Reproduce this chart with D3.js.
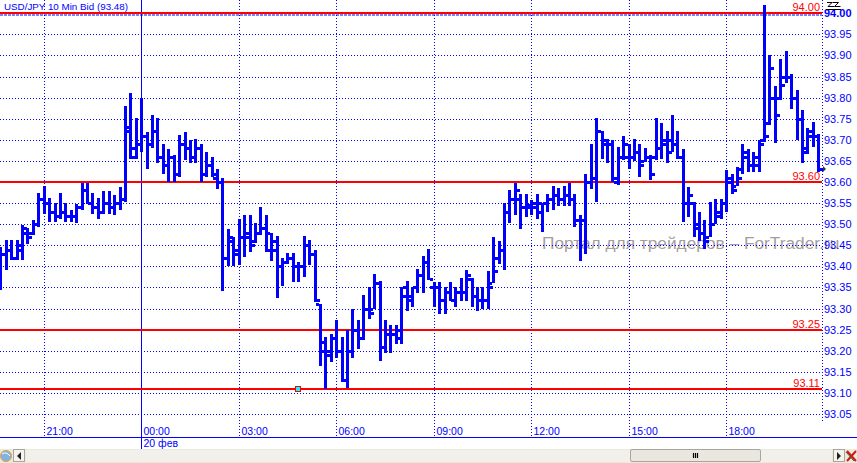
<!DOCTYPE html>
<html>
<head>
<meta charset="utf-8">
<script src="https://cdn.jsdelivr.net/npm/d3@7"></script>
<style>
body { margin: 0; background: #fff; overflow: hidden; }
svg text { font-family: "Liberation Sans", Arial, sans-serif; }
</style>
</head>
<body>
<svg id="chart" width="857" height="463"></svg>
<script>
// Chart data
var title = "USD/JPY 10 Min Bid (93.48)";
var watermark = "Портал для трейдеров – ForTrader.ru";
var dateLabel = "20 фев";
var startTime = Date.UTC(2009, 1, 19, 19, 40);
var barMinutes = 10;

var opens = [
    93.36, 93.43, 93.44, 93.42, 93.44, 93.48, 93.48, 93.50, 93.56, 93.55,
    93.53, 93.52, 93.53, 93.52, 93.52, 93.54, 93.58, 93.55, 93.54, 93.53,
    93.55, 93.54, 93.55, 93.56, 93.72, 93.68, 93.69, 93.71, 93.69, 93.72,
    93.66, 93.64, 93.66, 93.62, 93.69, 93.68, 93.66, 93.68, 93.62, 93.64,
    93.61, 93.60, 93.42, 93.46, 93.44, 93.47, 93.48, 93.46, 93.48, 93.49,
    93.48, 93.44, 93.40, 93.41, 93.42, 93.40, 93.40, 93.45, 93.43, 93.31,
    93.20, 93.19, 93.23, 93.20, 93.13, 93.20, 93.25, 93.23, 93.30, 93.30,
    93.36, 93.21, 93.24, 93.24, 93.25, 93.33, 93.32, 93.35, 93.38, 93.41,
    93.35, 93.35, 93.32, 93.34, 93.32, 93.34, 93.34, 93.37, 93.33, 93.32,
    93.32, 93.36, 93.42, 93.44, 93.53, 93.56, 93.56, 93.54, 93.545, 93.54,
    93.53, 93.55, 93.56, 93.57, 93.56, 93.57, 93.56, 93.51, 93.51, 93.60,
    93.61, 93.72, 93.70, 93.69, 93.60, 93.66, 93.66, 93.66, 93.67, 93.65,
    93.66, 93.66, 93.68, 93.69, 93.70, 93.69, 93.66, 93.55, 93.55, 93.50,
    93.48, 93.47, 93.50, 93.52, 93.55, 93.60, 93.59, 93.63, 93.66, 93.64,
    93.64, 93.70, 93.74, 93.80, 93.80, 93.85, 93.85, 93.80, 93.75, 93.68,
    93.71, 93.71
];
var highs = [
    93.446, 93.462, 93.462, 93.462, 93.498, 93.490, 93.510, 93.573, 93.590, 93.561,
    93.550, 93.573, 93.550, 93.533, 93.549, 93.597, 93.598, 93.573, 93.561, 93.579,
    93.579, 93.569, 93.589, 93.781, 93.810, 93.751, 93.800, 93.719, 93.760, 93.751,
    93.689, 93.679, 93.663, 93.711, 93.719, 93.699, 93.702, 93.689, 93.671, 93.660,
    93.632, 93.610, 93.489, 93.469, 93.512, 93.522, 93.522, 93.504, 93.540, 93.522,
    93.480, 93.472, 93.421, 93.431, 93.431, 93.411, 93.472, 93.463, 93.440, 93.310,
    93.233, 93.240, 93.272, 93.233, 93.250, 93.300, 93.274, 93.333, 93.352, 93.383,
    93.365, 93.274, 93.262, 93.262, 93.352, 93.365, 93.352, 93.393, 93.425, 93.442,
    93.363, 93.363, 93.352, 93.363, 93.352, 93.373, 93.391, 93.373, 93.352, 93.350,
    93.390, 93.469, 93.461, 93.550, 93.580, 93.598, 93.572, 93.572, 93.558, 93.572,
    93.550, 93.572, 93.590, 93.587, 93.590, 93.598, 93.572, 93.521, 93.620, 93.690,
    93.751, 93.721, 93.703, 93.699, 93.683, 93.710, 93.689, 93.703, 93.691, 93.681,
    93.665, 93.751, 93.741, 93.721, 93.760, 93.721, 93.679, 93.588, 93.552, 93.530,
    93.510, 93.552, 93.560, 93.560, 93.629, 93.620, 93.635, 93.690, 93.679, 93.671,
    93.699, 94.020, 93.901, 93.827, 93.891, 93.910, 93.857, 93.819, 93.770, 93.727,
    93.743, 93.715
];
var lows = [
    93.343, 93.392, 93.414, 93.414, 93.414, 93.454, 93.474, 93.494, 93.525, 93.505,
    93.505, 93.513, 93.505, 93.505, 93.503, 93.533, 93.549, 93.525, 93.513, 93.525,
    93.525, 93.521, 93.533, 93.552, 93.654, 93.654, 93.671, 93.632, 93.681, 93.644,
    93.620, 93.600, 93.600, 93.612, 93.652, 93.644, 93.644, 93.600, 93.612, 93.612,
    93.583, 93.342, 93.402, 93.402, 93.403, 93.423, 93.433, 93.455, 93.475, 93.433,
    93.413, 93.324, 93.353, 93.406, 93.363, 93.363, 93.374, 93.403, 93.316, 93.163,
    93.110, 93.173, 93.183, 93.125, 93.111, 93.183, 93.204, 93.225, 93.275, 93.298,
    93.175, 93.194, 93.194, 93.217, 93.217, 93.294, 93.304, 93.336, 93.336, 93.367,
    93.304, 93.286, 93.286, 93.317, 93.304, 93.317, 93.317, 93.304, 93.294, 93.300,
    93.300, 93.360, 93.406, 93.391, 93.502, 93.521, 93.489, 93.517, 93.521, 93.513,
    93.481, 93.529, 93.533, 93.544, 93.544, 93.544, 93.493, 93.413, 93.429, 93.584,
    93.552, 93.654, 93.644, 93.600, 93.594, 93.652, 93.632, 93.649, 93.612, 93.648,
    93.604, 93.652, 93.654, 93.644, 93.671, 93.654, 93.505, 93.517, 93.470, 93.461,
    93.441, 93.470, 93.500, 93.513, 93.529, 93.572, 93.590, 93.620, 93.624, 93.624,
    93.624, 93.695, 93.735, 93.693, 93.794, 93.834, 93.774, 93.699, 93.645, 93.667,
    93.683, 93.624
];
var closes = [
    93.43, 93.44, 93.42, 93.45, 93.49, 93.47, 93.50, 93.56, 93.55, 93.53,
    93.52, 93.53, 93.52, 93.52, 93.54, 93.58, 93.55, 93.54, 93.53, 93.55,
    93.54, 93.55, 93.56, 93.73, 93.66, 93.69, 93.71, 93.69, 93.72, 93.66,
    93.64, 93.66, 93.62, 93.69, 93.68, 93.66, 93.68, 93.62, 93.64, 93.62,
    93.60, 93.42, 93.47, 93.43, 93.47, 93.47, 93.45, 93.48, 93.49, 93.44,
    93.46, 93.40, 93.41, 93.42, 93.40, 93.40, 93.45, 93.43, 93.32, 93.22,
    93.20, 93.23, 93.20, 93.13, 93.20, 93.25, 93.23, 93.30, 93.29, 93.36,
    93.21, 93.24, 93.24, 93.23, 93.35, 93.33, 93.35, 93.38, 93.41, 93.37,
    93.35, 93.32, 93.34, 93.32, 93.34, 93.34, 93.38, 93.33, 93.32, 93.32,
    93.35, 93.39, 93.44, 93.53, 93.56, 93.58, 93.54, 93.54, 93.55, 93.55,
    93.55, 93.56, 93.57, 93.56, 93.57, 93.56, 93.51, 93.51, 93.60, 93.61,
    93.72, 93.69, 93.69, 93.61, 93.66, 93.69, 93.66, 93.67, 93.64, 93.66,
    93.62, 93.68, 93.70, 93.67, 93.69, 93.66, 93.55, 93.57, 93.49, 93.48,
    93.46, 93.50, 93.53, 93.55, 93.61, 93.58, 93.61, 93.67, 93.64, 93.66,
    93.69, 93.71, 93.87, 93.76, 93.83, 93.85, 93.80, 93.75, 93.67, 93.72,
    93.71, 93.63
];

var priceTicks = [93.05, 93.10, 93.15, 93.20, 93.25, 93.30, 93.35, 93.40, 93.45, 93.50,
    93.55, 93.60, 93.65, 93.70, 93.75, 93.80, 93.85, 93.90, 93.95, 94.00];
var levels = [94.00, 93.60, 93.25, 93.11];
var markerTime = Date.UTC(2009, 1, 20, 4, 50);
var markerPrice = 93.11;

// Layout
var width = 857, height = 463;
var plotRight = 822, plotBottom = 421, axisLineY = 437.5, scrollTop = 449;
var blue = "#0000ff", red = "#ff0000";

var bars = opens.map(function (o, i) {
    return {
        time: new Date(startTime + i * barMinutes * 60000),
        open: o, high: highs[i], low: lows[i], close: closes[i]
    };
});

var svg = d3.select("#chart");

var x = d3.scaleUtc()
    .domain([bars[0].time, bars[bars.length - 1].time])
    .range([0.4, 818.2]);

var y = d3.scaleLinear()
    .domain([93.0, 94.0])
    .range([435.1, 13.3]);

function px(v) { return Math.round(v) + 0.5; }

svg.append("rect").attr("width", width).attr("height", height).attr("fill", "#fff");

// Watermark (under everything else)
svg.append("text")
    .attr("x", 542).attr("y", 249)
    .attr("font-size", 17.3)
    .attr("fill", "#a59d9d")
    .text(watermark);

// Horizontal grid
svg.append("g").selectAll("line")
    .data(priceTicks)
    .enter().append("line")
    .attr("x1", 0).attr("x2", plotRight)
    .attr("y1", function (d) { return px(y(d)); })
    .attr("y2", function (d) { return px(y(d)); })
    .attr("stroke", blue)
    .attr("stroke-dasharray", "1,2");

// Dashed line right under the 94.00 level
svg.append("line")
    .attr("x1", 0).attr("x2", plotRight)
    .attr("y1", px(y(94.00)) + 1.5).attr("y2", px(y(94.00)) + 1.5)
    .attr("stroke", blue)
    .attr("stroke-dasharray", "3,1");

// Vertical grid + time labels
var timeTicks = x.ticks(d3.utcHour.every(3));
var fmt = d3.utcFormat("%H:%M");
var vgrid = svg.append("g");
timeTicks.forEach(function (t) {
    var xx = px(x(t));
    var midnight = t.getUTCHours() === 0;
    vgrid.append("line")
        .attr("x1", xx).attr("x2", xx)
        .attr("y1", 0).attr("y2", midnight ? scrollTop : axisLineY)
        .attr("stroke", blue)
        .attr("stroke-dasharray", midnight ? null : "1,2");
    vgrid.append("text")
        .attr("x", xx + 2).attr("y", 435)
        .attr("font-size", 10.5)
        .attr("fill", blue)
        .text(fmt(t));
    if (midnight) {
        vgrid.append("text")
            .attr("x", xx + 2).attr("y", 446.5)
            .attr("font-size", 10.5)
            .attr("fill", blue)
            .text(dateLabel);
    }
});

// Right edge of plot
svg.append("line")
    .attr("x1", plotRight + 0.5).attr("x2", plotRight + 0.5)
    .attr("y1", 0).attr("y2", plotBottom)
    .attr("stroke", blue)
    .attr("stroke-dasharray", "1,2");

// Time axis baseline
svg.append("line")
    .attr("x1", 0).attr("x2", width)
    .attr("y1", axisLineY).attr("y2", axisLineY)
    .attr("stroke", blue);

// Level lines
var lv = svg.append("g");
levels.forEach(function (p) {
    lv.append("rect")
        .attr("x", 0).attr("width", plotRight)
        .attr("y", Math.round(y(p)) - 1).attr("height", 2)
        .attr("fill", red);
    lv.append("text")
        .attr("x", plotRight - 2).attr("y", Math.round(y(p)) - 2)
        .attr("text-anchor", "end")
        .attr("font-size", 11)
        .attr("fill", red)
        .text(p.toFixed(2));
});

// OHLC bars
var bw = 3, tick = 3;
var g = svg.append("g").attr("fill", blue);
bars.forEach(function (d) {
    var cx = Math.round(x(d.time));
    var top = Math.round(y(d.high)), bot = Math.round(y(d.low));
    g.append("rect")
        .attr("x", cx - 1).attr("width", bw)
        .attr("y", top).attr("height", Math.max(bot - top, 2));
    g.append("rect")
        .attr("x", cx - 1 - tick).attr("width", tick)
        .attr("y", Math.round(y(d.open)) - 1).attr("height", 3);
    g.append("rect")
        .attr("x", cx + 2).attr("width", tick)
        .attr("y", Math.round(y(d.close)) - 1).attr("height", 3);
});

// Marker on the 93.11 level
svg.append("rect")
    .attr("x", Math.round(x(new Date(markerTime))) - 2.5)
    .attr("y", Math.round(y(markerPrice)) - 2.5)
    .attr("width", 5).attr("height", 5)
    .attr("fill", "#00ffff")
    .attr("stroke", red);

// Price axis labels
svg.append("g").selectAll("text")
    .data(priceTicks)
    .enter().append("text")
    .attr("x", plotRight + 2)
    .attr("y", function (d) { return y(d) + 4; })
    .attr("font-size", 11)
    .attr("font-weight", function (d) { return d === 94.00 ? "bold" : null; })
    .attr("fill", blue)
    .text(function (d) { return d.toFixed(2); });

// Last price pointer
var lastY = Math.round(y(bars[bars.length - 1].close));
svg.append("path")
    .attr("d", "M" + (plotRight + 1) + "," + (lastY - 3) + "l3,3l-3,3z")
    .attr("fill", "#333");

// Small tool icon at the top of the price axis
var icon = svg.append("g").attr("transform", "translate(826,1)")
    .attr("fill", "none").attr("stroke", "#000").attr("stroke-width", 1);
icon.append("path").attr("d", "M1,1.5h5l-4,4h6M6.5,1.5h6l-4,4h6");
icon.append("path").attr("d", "M0,8.5h15");

// Title
svg.append("text")
    .attr("x", 4).attr("y", 10)
    .attr("font-size", 9.8)
    .attr("fill", blue)
    .text(title);

// Scroll bar
var sb = svg.append("g");
sb.append("rect").attr("x", 0).attr("y", scrollTop).attr("width", width).attr("height", height - scrollTop)
    .attr("fill", "#ece9d8");
sb.append("rect").attr("x", 26).attr("y", scrollTop + 1).attr("width", 806).attr("height", 12)
    .attr("fill", "#f1f0ea");
// globe icon
sb.append("circle").attr("cx", 6).attr("cy", scrollTop + 7).attr("r", 5.5)
    .attr("fill", "#7fb2e5").attr("stroke", "#e5a040");
sb.append("path").attr("d", "M2," + (scrollTop + 5) + "q4,-3 8,2").attr("stroke", "#fff").attr("fill", "none");
// arrow buttons
[[13, "M21,%y1l-4,4l4,4z"], [833, "M837,%y1l4,4l-4,4z"]].forEach(function (b) {
    sb.append("rect").attr("x", b[0] + 0.5).attr("y", scrollTop + 0.5).attr("width", 11).attr("height", 12)
        .attr("fill", "#f4f3ee").attr("stroke", "#a7a69e");
    sb.append("path").attr("d", b[1].replace("%y1", scrollTop + 3)).attr("fill", "#222");
});
// thumb
sb.append("rect").attr("x", 630.5).attr("y", scrollTop + 0.5).attr("width", 130).attr("height", 12)
    .attr("rx", 1.5).attr("fill", "#e9e7df").attr("stroke", "#a7a69e");
sb.append("path").attr("d", "M693.5," + (scrollTop + 4) + "v5M695.5," + (scrollTop + 4) + "v5M697.5," + (scrollTop + 4) + "v5")
    .attr("stroke", "#000").attr("stroke-width", 1.2);
// close icon
sb.append("path").attr("d", "M847," + (scrollTop + 2) + "l9,10M856," + (scrollTop + 2) + "l-9,10")
    .attr("stroke", "#d01818").attr("stroke-width", 2);
sb.append("path").attr("d", "M846," + (scrollTop + 3) + "l8,9").attr("stroke", "#2a6a2a").attr("stroke-width", 1);
</script>
</body>
</html>
